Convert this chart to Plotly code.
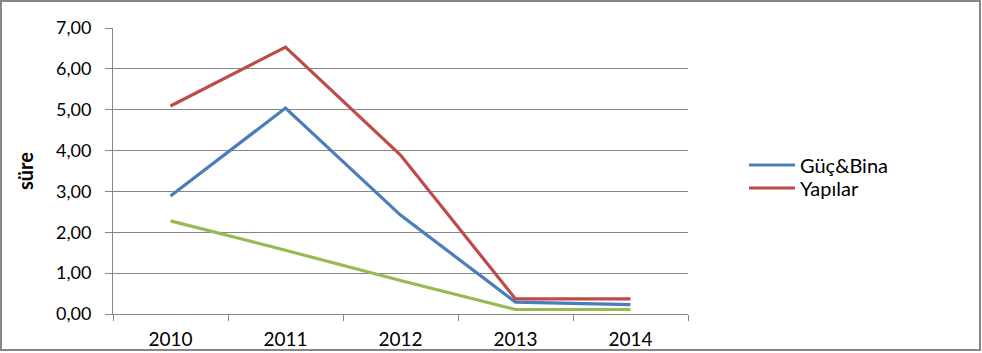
import plotly.graph_objects as go

years = ["2010", "2011", "2012", "2013", "2014"]
guc_bina = [2.89, 5.04, 2.42, 0.29, 0.23]
yapilar = [5.09, 6.53, 3.89, 0.37, 0.37]
diger = [2.28, 1.56, 0.82, 0.11, 0.11]
y_ticks = [0, 1, 2, 3, 4, 5, 6, 7]

W, H = 982, 353
L, R, T, B = 113, 294, 28, 39
PW, PH = W - L - R, H - T - B

def px(x):
    return (x - L) / PW

def py(y):
    return (H - B - y) / PH

fig = go.Figure()
fig.add_trace(go.Scatter(x=years, y=guc_bina, mode="lines", name="Güç&Bina",
                         line=dict(color="#4A7EBB", width=3.2), legend="legend"))
fig.add_trace(go.Scatter(x=years, y=yapilar, mode="lines", name="Yapılar",
                         line=dict(color="#BE4B48", width=3.2), legend="legend2"))
fig.add_trace(go.Scatter(x=years, y=diger, mode="lines", name="",
                         line=dict(color="#98B954", width=3.2), showlegend=False))

leg_common = dict(xanchor="left", yanchor="middle", font=dict(size=20),
                  bgcolor="rgba(0,0,0,0)", itemwidth=46)

fig.update_layout(
    width=W, height=H,
    margin=dict(l=L, r=R, t=T, b=B, autoexpand=False),
    paper_bgcolor="white", plot_bgcolor="white",
    separators=",.",
    font=dict(family="Lato, Open Sans, sans-serif", size=16, color="#000000"),
    showlegend=True,
    legend=dict(x=px(744), y=py(165), **leg_common),
    legend2=dict(x=px(744), y=py(188), **leg_common),
    xaxis=dict(type="category", showgrid=False, showline=True, linecolor="#868686",
               linewidth=1, ticks="outside", ticklen=6, tickcolor="#868686",
               tickson="boundaries", tickfont=dict(size=19), range=[-0.5, 4.5],
               ticklabelstandoff=8, automargin=False),
    yaxis=dict(range=[0, 7], tickvals=y_ticks, tickformat=".2f", showgrid=True,
               gridcolor="#868686", gridwidth=1, showline=True, linecolor="#868686",
               ticks="outside", ticklen=7, tickcolor="#868686", zeroline=False,
               tickfont=dict(size=18), ticklabelstandoff=10, automargin=False,
               title=dict(text="<b>süre</b>", font=dict(size=20), standoff=16)),
    shapes=[dict(type="rect", xref="paper", yref="paper",
                 x0=px(1), x1=px(980), y0=py(350), y1=py(1),
                 line=dict(color="#868686", width=2))],
)

fig.write_html("out.html")
